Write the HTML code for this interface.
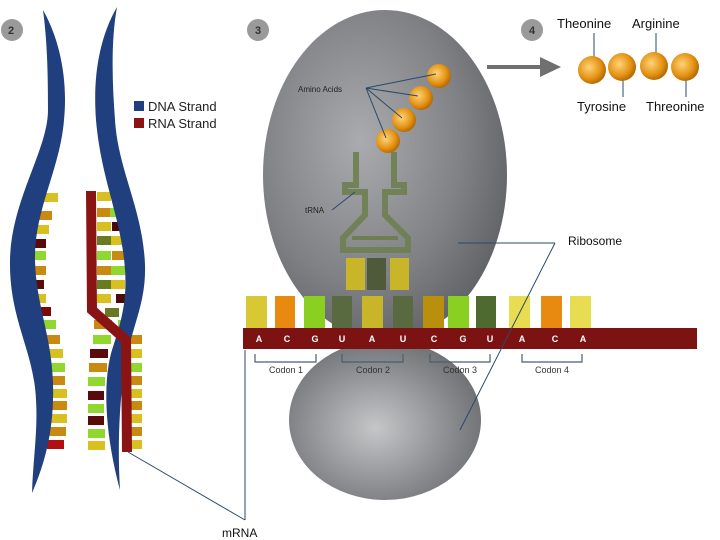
<!DOCTYPE html>
<html><head><meta charset="utf-8"><style>
body{margin:0;background:#fff}
svg{display:block}
text{font-family:"Liberation Sans",sans-serif}
</style></head><body>
<svg width="720" height="540" viewBox="0 0 720 540" xmlns="http://www.w3.org/2000/svg">
<defs>
<radialGradient id="rib" cx="0.4" cy="0.4" r="0.7">
<stop offset="0" stop-color="#a9abae"/><stop offset="0.6" stop-color="#7f8184"/><stop offset="1" stop-color="#5a5c5f"/>
</radialGradient>
<radialGradient id="rib2" cx="0.45" cy="0.55" r="0.7">
<stop offset="0" stop-color="#c4c6c8"/><stop offset="0.6" stop-color="#85878a"/><stop offset="1" stop-color="#5e6063"/>
</radialGradient>
<radialGradient id="ball" cx="0.4" cy="0.4" r="0.6">
<stop offset="0" stop-color="#ffd37a"/><stop offset="0.7" stop-color="#e39212"/><stop offset="1" stop-color="#b86d05"/>
</radialGradient>
</defs>
<g fill="#9a9a9a"><circle cx="12" cy="30" r="11"/><circle cx="258" cy="30" r="11"/><circle cx="532" cy="30" r="11"/></g>
<g font-size="11" font-weight="bold" fill="#333" text-anchor="middle"><text x="11" y="34">2</text><text x="258" y="34">3</text><text x="532" y="34">4</text></g>
<g>
<rect x="40" y="193" width="18" height="9" fill="#d8c020"/>
<rect x="38" y="211" width="14" height="9" fill="#c88a10"/>
<rect x="33" y="225" width="16" height="9" fill="#d8c020"/>
<rect x="30" y="239" width="16" height="9" fill="#5a0a0a"/>
<rect x="30" y="251" width="16" height="9" fill="#90d830"/>
<rect x="29" y="266" width="17" height="9" fill="#c88a10"/>
<rect x="29" y="280" width="15" height="9" fill="#5a0a0a"/>
<rect x="30" y="294" width="16" height="9" fill="#d8c020"/>
<rect x="33" y="307" width="18" height="9" fill="#7a0a0a"/>
<rect x="38" y="320" width="18" height="9" fill="#90d830"/>
<rect x="42" y="335" width="18" height="9" fill="#c88a10"/>
<rect x="45" y="349" width="18" height="9" fill="#d8c020"/>
<rect x="48" y="363" width="17" height="9" fill="#90d830"/>
<rect x="48" y="376" width="17" height="9" fill="#c88a10"/>
<rect x="50" y="389" width="17" height="9" fill="#d8c020"/>
<rect x="50" y="401" width="17" height="9" fill="#c88a10"/>
<rect x="50" y="414" width="17" height="9" fill="#d8c020"/>
<rect x="49" y="427" width="17" height="9" fill="#c88a10"/>
<rect x="47" y="440" width="17" height="9" fill="#b01010"/>
<rect x="97" y="192" width="14" height="9" fill="#d8c020"/><rect x="112" y="192" width="10" height="9" fill="#4a0a0a"/>
<rect x="97" y="208" width="13" height="9" fill="#c88a10"/><rect x="110" y="208" width="13" height="9" fill="#90d830"/>
<rect x="97" y="222" width="14" height="9" fill="#d8c020"/><rect x="112" y="222" width="13" height="9" fill="#4a0a0a"/>
<rect x="97" y="236" width="14" height="9" fill="#6a7a20"/><rect x="111" y="236" width="14" height="9" fill="#d8c020"/>
<rect x="97" y="251" width="14" height="9" fill="#90d830"/><rect x="112" y="251" width="14" height="9" fill="#c88a10"/>
<rect x="97" y="266" width="14" height="9" fill="#c88a10"/><rect x="111" y="266" width="14" height="9" fill="#90d830"/>
<rect x="97" y="280" width="14" height="9" fill="#6a7a20"/><rect x="111" y="280" width="14" height="9" fill="#d8c020"/>
<rect x="97" y="294" width="14" height="9" fill="#d8c020"/><rect x="116" y="294" width="10" height="9" fill="#4a0a0a"/>
<rect x="105" y="308" width="14" height="9" fill="#6a7a20"/>
<rect x="94" y="320" width="18" height="9" fill="#c88a10"/><rect x="118" y="320" width="16" height="9" fill="#90d830"/>
<rect x="93" y="335" width="18" height="9" fill="#90d830"/><rect x="130" y="335" width="12" height="9" fill="#c88a10"/>
<rect x="90" y="349" width="18" height="9" fill="#5a0a0a"/><rect x="130" y="349" width="12" height="9" fill="#d8c020"/>
<rect x="89" y="363" width="18" height="9" fill="#c88a10"/><rect x="130" y="363" width="12" height="9" fill="#90d830"/>
<rect x="88" y="377" width="17" height="9" fill="#90d830"/><rect x="130" y="376" width="12" height="9" fill="#c88a10"/>
<rect x="88" y="391" width="16" height="9" fill="#5a0a0a"/><rect x="130" y="389" width="12" height="9" fill="#d8c020"/>
<rect x="88" y="404" width="16" height="9" fill="#90d830"/><rect x="130" y="401" width="12" height="9" fill="#c88a10"/>
<rect x="88" y="416" width="16" height="9" fill="#5a0a0a"/><rect x="130" y="414" width="12" height="9" fill="#d8c020"/>
<rect x="88" y="429" width="17" height="9" fill="#90d830"/><rect x="130" y="427" width="12" height="9" fill="#c88a10"/>
<rect x="88" y="441" width="17" height="9" fill="#d8c020"/><rect x="130" y="440" width="12" height="9" fill="#d8c020"/>
</g>
<g fill="#1f3f7f">
<path d="M43,10 C60,40 68,80 64,120 C60,170 34,210 35,260 C36,310 55,340 53,400 C52,440 42,470 32,493 C33,460 38,430 36,400 C34,350 9,320 10,260 C11,200 48,150 48,110 C48,70 47,40 43,10 Z"/>
<path d="M117,7 C98,40 93,80 96,120 C101,180 122,220 125,270 C127,300 122,320 112,350 C103,380 104,430 120,490 C117,440 120,390 127,355 C135,320 146,300 145,265 C143,210 118,170 115,120 C112,80 111,40 117,7 Z"/>
</g>
<path d="M91,191 L92,310 L126,340 L127,452" fill="none" stroke="#8a1414" stroke-width="10"/>
<rect x="134" y="101" width="10" height="10" fill="#1f3f7f"/>
<rect x="134" y="118" width="10" height="10" fill="#8a1414"/>
<text x="148" y="111" font-size="13" fill="#222">DNA Strand</text>
<text x="148" y="128" font-size="13" fill="#222">RNA Strand</text>
<ellipse cx="385" cy="175" rx="122" ry="165" fill="url(#rib)"/>
<ellipse cx="385" cy="420" rx="96" ry="80" fill="url(#rib2)"/>
<g fill="none" stroke="#6f7e50" stroke-width="6" opacity="0.9">
<path d="M356,152 L356,185 L345,185 L345,192 L365,192 L365,215 L343,238 L343,250 L408,250 L408,238 L385,215 L385,192 L404,192 L404,185 L394,185 L394,152"/>
</g>
<g stroke="#6f7e50" stroke-width="4" fill="none"><path d="M352,238 L398,238"/></g>
<rect x="346" y="258" width="19" height="32" fill="#c9b52a"/>
<rect x="367" y="258" width="19" height="32" fill="#4e5a3a"/>
<rect x="390" y="258" width="19" height="32" fill="#c9b52a"/>
<g>
<rect x="246" y="296" width="21" height="32" fill="#d8c834"/>
<rect x="275" y="296" width="20" height="32" fill="#e88a10"/>
<rect x="304" y="296" width="21" height="32" fill="#8ad020"/>
<rect x="332" y="296" width="20" height="32" fill="#5a6a40"/>
<rect x="362" y="296" width="21" height="32" fill="#c9b52a"/>
<rect x="393" y="296" width="20" height="32" fill="#5a6a40"/>
<rect x="423" y="296" width="21" height="32" fill="#b8900e"/>
<rect x="448" y="296" width="21" height="32" fill="#8ad020"/>
<rect x="476" y="296" width="20" height="32" fill="#4e6a30"/>
<rect x="509" y="296" width="21" height="32" fill="#e8dc50"/>
<rect x="541" y="296" width="21" height="32" fill="#e88a10"/>
<rect x="570" y="296" width="21" height="32" fill="#e8dc50"/>
</g>
<rect x="243" y="328" width="454" height="21" fill="#7d1212"/>
<g font-size="9" font-weight="bold" fill="#fff" text-anchor="middle">
<text x="259" y="342">A</text><text x="287" y="342">C</text><text x="315" y="342">G</text>
<text x="342" y="342">U</text><text x="372" y="342">A</text><text x="403" y="342">U</text>
<text x="434" y="342">C</text><text x="463" y="342">G</text><text x="490" y="342">U</text>
<text x="522" y="342">A</text><text x="555" y="342">C</text><text x="583" y="342">A</text>
</g>
<g fill="none" stroke="#4a5f70" stroke-width="1.2">
<path d="M255,354 V362 H316 V354"/><path d="M342,354 V362 H403 V354"/>
<path d="M430,354 V362 H490 V354"/><path d="M522,354 V362 H582 V354"/>
</g>
<g font-size="9" fill="#333" text-anchor="middle">
<text x="286" y="373">Codon 1</text><text x="373" y="373">Codon 2</text>
<text x="460" y="373">Codon 3</text><text x="552" y="373">Codon 4</text>
</g>
<circle cx="388" cy="141" r="12" fill="url(#ball)"/>
<circle cx="404" cy="120" r="12" fill="url(#ball)"/>
<circle cx="421" cy="98" r="12" fill="url(#ball)"/>
<circle cx="439" cy="76" r="12" fill="url(#ball)"/>
<g stroke="#2a4a6a" stroke-width="1" fill="none">
<path d="M366,88 L436,74 M366,88 L418,96 M366,88 L402,118 M366,88 L386,138"/>
<path d="M332,210 L355,192"/>
<path d="M555,243 L458,243 M555,243 L460,430"/>
<path d="M245,520 L245,350 M245,520 L128,452"/>
</g>
<text x="298" y="92" font-size="8" fill="#222">Amino Acids</text>
<text x="305" y="213" font-size="8" fill="#222">tRNA</text>
<text x="568" y="245" font-size="12" fill="#111">Ribosome</text>
<text x="222" y="537" font-size="12" fill="#111">mRNA</text>
<path d="M487,67 L545,67" stroke="#707070" stroke-width="4"/>
<polygon points="540,57 561,67 540,77" fill="#707070"/>
<g stroke="#2a4a6a" stroke-width="1">
<line x1="594" y1="33" x2="594" y2="62"/><line x1="656" y1="33" x2="656" y2="60"/>
<line x1="623" y1="70" x2="623" y2="97"/><line x1="686" y1="70" x2="686" y2="97"/>
</g>
<circle cx="592" cy="70" r="14" fill="url(#ball)"/>
<circle cx="622" cy="67" r="14" fill="url(#ball)"/>
<circle cx="654" cy="66" r="14" fill="url(#ball)"/>
<circle cx="685" cy="67" r="14" fill="url(#ball)"/>
<g font-size="13" fill="#111">
<text x="557" y="28">Theonine</text><text x="632" y="28">Arginine</text>
<text x="577" y="111">Tyrosine</text><text x="646" y="111">Threonine</text>
</g>
</svg>
</body></html>
